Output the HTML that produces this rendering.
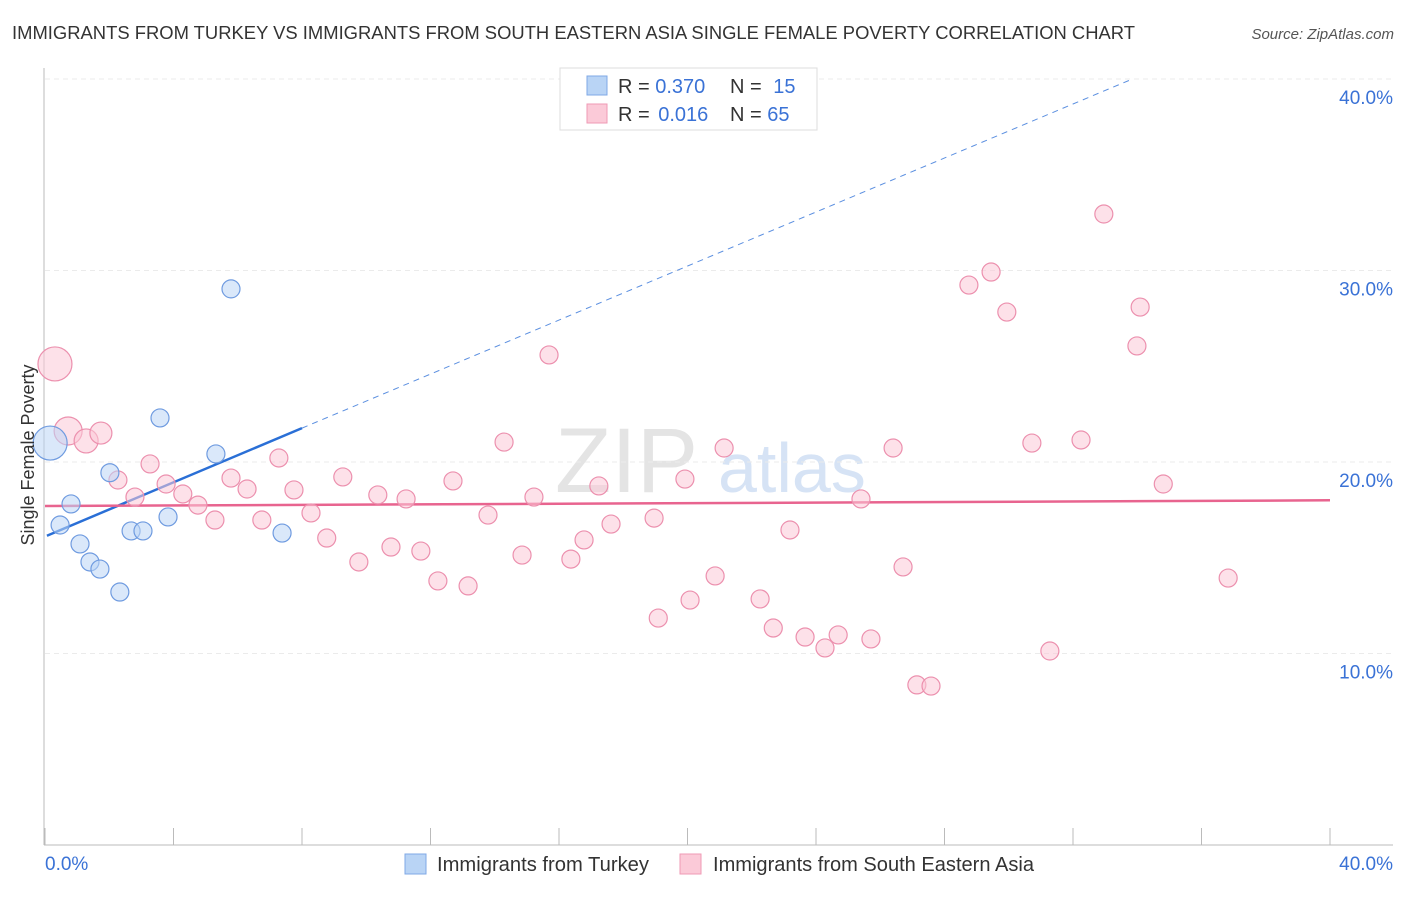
<!DOCTYPE html>
<html><head><meta charset="utf-8"><style>
body{margin:0;background:#fff;font-family:"Liberation Sans",sans-serif;}
svg text{font-family:"Liberation Sans",sans-serif;}
</style></head><body>
<svg id="chart" width="1406" height="892" xmlns="http://www.w3.org/2000/svg">
<text x="12" y="39" font-size="18" fill="#333" textLength="1123" lengthAdjust="spacingAndGlyphs">IMMIGRANTS FROM TURKEY VS IMMIGRANTS FROM SOUTH EASTERN ASIA SINGLE FEMALE POVERTY CORRELATION CHART</text>
<text x="1394" y="39" font-size="15" fill="#555" font-style="italic" text-anchor="end">Source: ZipAtlas.com</text>
<g><text x="555" y="492" font-size="92" fill="#e4e4e4" font-family="Liberation Serif">ZIP</text><text x="718" y="492" font-size="70" fill="#d6e3f5">atlas</text></g>
<g id="grid"></g><g id="axes"></g><g id="lines"></g><g id="pts"></g>
<text transform="translate(34,455) rotate(-90)" font-size="18" fill="#333" text-anchor="middle">Single Female Poverty</text>
<g>
<rect x="560" y="68" width="257" height="62" fill="#fff" stroke="#ddd"/>
<rect x="587" y="76" width="20" height="19" fill="#b9d4f5" stroke="#7fa8e6"/>
<rect x="587" y="104" width="20" height="19" fill="#fbcad8" stroke="#ef9ab5"/>
<text x="618" y="93" font-size="20" fill="#333">R = <tspan fill="#3a72d6">0.370</tspan></text>
<text x="730" y="93" font-size="20" fill="#333">N = <tspan fill="#3a72d6" dx="6">15</tspan></text>
<text x="618" y="121" font-size="20" fill="#333">R = <tspan fill="#3a72d6" dx="3">0.016</tspan></text>
<text x="730" y="121" font-size="20" fill="#333">N = <tspan fill="#3a72d6">65</tspan></text>
</g>
<g>
<rect x="405" y="854" width="21" height="20" fill="#b9d4f5" stroke="#7fa8e6"/>
<text x="437" y="871" font-size="20" fill="#333" textLength="212" lengthAdjust="spacingAndGlyphs">Immigrants from Turkey</text>
<rect x="680" y="854" width="21" height="20" fill="#fbcad8" stroke="#ef9ab5"/>
<text x="713" y="871" font-size="20" fill="#333" textLength="321" lengthAdjust="spacingAndGlyphs">Immigrants from South Eastern Asia</text>
</g>
</svg>
<script>
const yTicks=[10,20,30,40];
const yTickLabels=["10.0%","20.0%","30.0%","40.0%"];
const xTickLabels=["0.0%","40.0%"];
const blueX=[0.16,0.47,0.81,1.09,1.40,1.71,2.02,2.33,2.68,3.05,3.58,3.83,5.32,5.79,7.38];
const blueY=[20.99,16.71,17.81,15.72,14.78,14.41,19.44,13.21,16.40,16.40,22.30,17.13,20.42,29.04,16.29];
const blueR=[17,9,9,9,9,9,9,9,9,9,9,9,9,9,9];
const pinkX=[0.31,0.72,1.28,1.74,2.27,2.80,3.27,3.77,4.29,4.76,5.29,5.79,6.29,6.75,7.28,7.75,8.28,8.77,9.27,9.77,10.36,10.77,11.24,11.70,12.23,12.70,13.17,13.79,14.29,14.85,15.22,15.69,16.37,16.78,17.24,17.62,18.96,19.09,19.92,20.08,20.86,21.14,22.26,22.67,23.19,23.66,24.28,24.69,25.40,25.71,26.40,26.71,27.14,27.58,28.76,29.45,29.94,30.72,31.28,32.25,32.96,33.99,34.09,34.81,36.83];
const pinkY=[25.12,21.62,21.10,21.51,19.06,18.17,19.90,18.85,18.33,17.75,16.97,19.16,18.59,16.97,20.21,18.54,17.34,16.03,19.22,14.78,18.28,15.56,18.07,15.35,13.79,19.01,13.53,17.23,21.04,15.14,18.17,25.59,14.93,15.93,18.75,16.76,17.07,11.85,19.11,12.79,14.05,20.73,12.85,11.33,16.45,10.86,10.29,10.97,18.07,10.76,20.73,14.52,8.36,8.30,29.24,29.92,27.83,20.99,10.13,21.15,32.95,26.06,28.09,18.85,13.94];
const pinkR=[17,14,12,11,9,9,9,9,9,9,9,9,9,9,9,9,9,9,9,9,9,9,9,9,9,9,9,9,9,9,9,9,9,9,9,9,9,9,9,9,9,9,9,9,9,9,9,9,9,9,9,9,9,9,9,9,9,9,9,9,9,9,9,9,9];
const blueLine=[0.06,16.15,8.0,21.77];
const blueDash=[8.0,21.77,33.85,40.0];
const pinkLine=[0,17.7,40,18.0];
const NS="http://www.w3.org/2000/svg";
const X=v=>45+v/40*1285, Y=v=>845-v/10*191.5;
function mk(p,t,a){const e=document.createElementNS(NS,t);for(const k in a)e.setAttribute(k,a[k]);document.getElementById(p).appendChild(e);return e;}
yTicks.forEach((t,i)=>{
 const g=mk('grid','line',{x1:45,x2:1393,y1:Y(t),y2:Y(t),stroke:'#ebebeb','stroke-dasharray':'5,4'});
 
 
 const l=mk('axes','text',{x:1393,y:Y(t)+25,'font-size':19,fill:'#3a72d6','text-anchor':'end'});l.textContent=yTickLabels[i];
 
 
});
const ax=mk('axes','line',{x1:44,x2:44,y1:68,y2:845,stroke:'#bbb'});


const bx=mk('axes','line',{x1:44,x2:1393,y1:845,y2:845,stroke:'#bbb'});


for(let i=0;i<=10;i++){const t=mk('axes','line',{x1:X(i*4),x2:X(i*4),y1:828,y2:845,stroke:'#bbb'});
 
 }
[[0,45,'start'],[1,1393,'end']].forEach(([i,x,a])=>{const l=mk('axes','text',{x:x,y:870,'font-size':19,fill:'#3a72d6','text-anchor':a});l.textContent=xTickLabels[i];
 
 });
const d=mk('lines','line',{x1:X(blueDash[0]),y1:Y(blueDash[1]),x2:X(blueDash[2]),y2:Y(blueDash[3]),stroke:'#5b8fe0','stroke-width':1,'stroke-dasharray':'6,5'});


function pts(xs,ys,rs,fill,stroke,name){xs.forEach((v,i)=>{const c=mk('pts','circle',{cx:X(v),cy:Y(ys[i]),r:rs[i],fill:fill,'fill-opacity':0.55,stroke:stroke,'stroke-width':1.2});
 
 });}
pts(pinkX,pinkY,pinkR,'#fbc8d7','#ec90ae','sea-point');
pts(blueX,blueY,blueR,'#bcd5f5','#6f9be0','turkey-point');
const b=mk('lines','line',{x1:X(blueLine[0]),y1:Y(blueLine[1]),x2:X(blueLine[2]),y2:Y(blueLine[3]),stroke:'#2a6fd6','stroke-width':2.5});


const p=mk('lines','line',{x1:X(pinkLine[0]),y1:Y(pinkLine[1]),x2:X(pinkLine[2]),y2:Y(pinkLine[3]),stroke:'#e8648f','stroke-width':2.5});


</script>
</body></html>
